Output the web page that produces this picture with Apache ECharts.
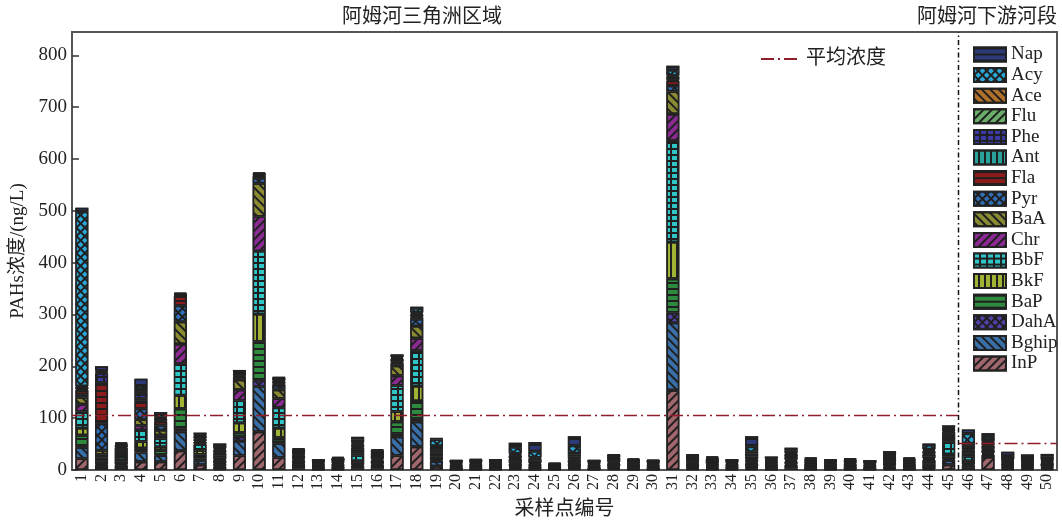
<!DOCTYPE html>
<html>
<head>
<meta charset="utf-8">
<script src="https://cdn.jsdelivr.net/npm/echarts@6/dist/echarts.min.js"></script>
<style>
  html, body { margin: 0; padding: 0; background: #fff; }
  #chart { width: 1062px; height: 525px; }
</style>
</head>
<body>
<div id="chart"></div>
<script>
// Sampling sites 1–50 (1–45 delta area, 46–50 lower reach)
const sites = ['1','2','3','4','5','6','7','8','9','10','11','12','13','14','15','16','17','18','19','20',
  '21','22','23','24','25','26','27','28','29','30','31','32','33','34','35','36','37','38','39','40',
  '41','42','43','44','45','46','47','48','49','50'];

// PAH concentrations (ng/L) per site, one array per compound
const InP   = [22,6,4,16,16,37,10,2,28,74,24,3,1,1,3,3,28,45,7,1,1,1,2,1,1,2,1,2,1,1,154,2,1,1,2,1,3,1,1,1,1,2,1,2,10,5,25,2,2,2];
const Bghip = [22,4,5,18,12,37,9,4,28,87,27,4,2,2,5,3,36,48,10,1,2,2,2,2,1,2,1,2,2,1,130,2,2,2,2,2,3,2,2,2,1,2,2,3,9,4,3,2,2,2];
const DahA  = [3,2,2,3,2,6,3,2,8,12,3,1,1,1,2,1,6,6,2,1,1,1,1,1,0.5,1,1,1,1,1,20,1,1,1,1,1,1,1,1,1,1,1,1,1,2,2,1,1,1,1];
const BaP   = [20,4,5,5,8,38,8,3,8,75,8,3,1,1,4,3,23,34,4,1,1,1,2,1,1,2,1,2,1,1,65,2,2,1,2,1,3,1,1,1,1,2,1,4,5,4,2,2,2,2];
const BkF   = [14,3,3,13,7,26,8,2,19,53,19,2,1,1,4,2,20,29,3,1,1,1,1,1,0.5,1,1,1,1,1,71,1,1,1,1,1,2,1,1,1,1,2,1,3,5,3,2,1,1,1];
const BbF   = [32,5,6,22,16,61,11,6,43,121,39,5,2,2,10,6,50,68,5,2,2,2,3,2,1,3,2,3,2,2,195,3,2,2,3,2,4,2,2,2,2,4,2,6,24,8,5,2,2,3];
const Chr   = [14,6,4,9,6,38,2,2,21,67,18,2,1,1,4,2,19,24,3,1,1,1,1,1,0.5,1,1,1,1,1,52,1,1,1,1,1,2,1,1,1,1,1,1,2,5,3,1,1,1,1];
const BaA   = [13,8,4,12,10,43,3,3,19,64,17,2,1,1,3,2,19,24,3,1,1,1,2,1,0.5,2,1,2,1,1,43,2,1,1,2,1,2,1,1,1,1,2,1,2,6,3,2,1,1,1];
const Pyr   = [6,51,4,20,9,31,2,4,3,10,7,3,2,2,4,3,3,13,3,2,2,2,3,2,1,3,2,2,2,2,11,2,2,2,2,2,3,2,2,2,2,3,2,3,4,3,3,2,2,2];
const Fla   = [8,77,5,16,7,18,3,4,3,3,3,3,2,2,4,3,3,3,3,2,2,2,4,2,1,3,2,3,2,2,10,3,3,2,3,2,3,2,2,2,2,3,2,4,3,3,3,2,2,2];
const Ant   = [2,3,2,4,2,1,2,2,2,1,2,2,1,1,2,1,2,2,1,1,1,1,2,1,0.5,2,1,1,1,1,2,1,1,1,2,1,1,1,1,1,1,1,1,2,2,2,2,1,1,1];
const Phe   = [3,17,3,9,3,1,3,4,3,2,3,3,2,2,4,3,4,4,1,2,2,2,5,3,1.5,4,2,3,2,2,3,3,3,2,5,2,3,2,2,2,1.5,3,2,4,3,4,4,2,2,2];
const Flu   = [1,2,1,5,2,1,1,2,1,1,1,1,1,1,2,1,1,2,1,0.5,1,1,2,4,0.5,4,0.5,1,1,0.5,3,1,1,1,6,2,1,2,1,1,0.5,1,2,2,1,3,2,1,1,1];
const Ace   = [2,2,1,4,1,1,1,2,1,1,2,1,0.5,1,2,1,2,2,1,0.5,0.5,0.5,2,2,0.5,3,0.5,1,1,0.5,2,1,1,0.5,3,1,2,1,0.5,1,0.5,1,1,2,1,4,3,1,1,1];
const Acy   = [336,2,2,6,2,1,2,3,2,1,5,5,1,4,6,4,2,8,12,1,1,1,12,12,1,14,1,4,1,1,10,4,2,1,10,2,5,2,0.5,2,0.5,5,2,8,2,19,6,6,4,4];
const Nap   = [8,8,2,14,9,2,4,6,4,2,1,2,1,2.5,5,2,5,3,3,1,1.5,1,8.5,18,2,18,1,1,2.5,1.5,9,1,2,1,20,4,5,2,1,1.5,0.5,3.5,2.5,3,4,8,7,8,5,5];

// Regional mean concentration (ng/L) and the last site of each region
const regionNames = ['阿姆河三角洲区域', '阿姆河下游河段'];
const regionEnds  = [45, 50];
const regionMeans = [105, 51];

// Y-axis ticks
const yMax = 845, yStep = 100;

const INK = '#1f1f1f';
const SERIF = '"Liberation Serif", "Noto Sans CJK SC", serif';
const CJK = '"Liberation Serif", "Noto Sans CJK SC", sans-serif';
const MEAN_RED = '#8e1f2a';

// Fill patterns
const stripes = (rot) => ({ symbol: 'rect', symbolSize: 1, color: INK,
  dashArrayX: [1, 0], dashArrayY: [1.6, 3.8], rotation: rot });
const cells = (fill) => ({ symbol: 'rect', symbolSize: 1, color: fill, backgroundColor: INK,
  dashArrayX: [4.2, 1.6], dashArrayY: [3.8, 1.6], rotation: 0 });
const lattice = (fill) => ({ symbol: 'rect', symbolSize: 1, color: fill, backgroundColor: INK,
  dashArrayX: [3.2, 1.3], dashArrayY: [3.2, 1.3], rotation: Math.PI / 4 });

const H = 0, V = Math.PI / 2, BACK = Math.PI / 4, FWD = -Math.PI / 4;

// Stack order, bottom to top
const compounds = [
  { name: 'InP',   data: InP,   color: '#a0676c', decal: stripes(FWD) },
  { name: 'Bghip', data: Bghip, color: '#3a70aa', decal: stripes(BACK) },
  { name: 'DahA',  data: DahA,  color: '#5140a8', decal: lattice('#5140a8') },
  { name: 'BaP',   data: BaP,   color: '#2d8a3e', decal: stripes(H) },
  { name: 'BkF',   data: BkF,   color: '#a2b235', decal: stripes(V) },
  { name: 'BbF',   data: BbF,   color: '#30c6c8', decal: cells('#30c6c8') },
  { name: 'Chr',   data: Chr,   color: '#8a2a92', decal: stripes(FWD) },
  { name: 'BaA',   data: BaA,   color: '#8a8a32', decal: stripes(BACK) },
  { name: 'Pyr',   data: Pyr,   color: '#2f6db5', decal: lattice('#2f6db5') },
  { name: 'Fla',   data: Fla,   color: '#8c1c1c', decal: stripes(H) },
  { name: 'Ant',   data: Ant,   color: '#28a29a', decal: stripes(V) },
  { name: 'Phe',   data: Phe,   color: '#3a3aa8', decal: cells('#3a3aa8') },
  { name: 'Flu',   data: Flu,   color: '#6aae6a', decal: stripes(FWD) },
  { name: 'Ace',   data: Ace,   color: '#b0702a', decal: stripes(BACK) },
  { name: 'Acy',   data: Acy,   color: '#2aa7d6', decal: lattice('#2aa7d6') },
  { name: 'Nap',   data: Nap,   color: '#2e3a78', decal: stripes(H) }
];

const barSeries = compounds.map(c => ({
  type: 'bar',
  name: c.name,
  stack: 'pah',
  barWidth: 13,
  data: c.data,
  itemStyle: { color: c.color, borderColor: '#222', borderWidth: 1.5, decal: c.decal },
  emphasis: { disabled: true }
}));

// Mean concentration per region, drawn across that region's sites
const meanSeries = regionEnds.map((end, i) => ({
  type: 'line',
  name: '平均浓度',
  xAxisIndex: 1,
  symbol: 'none',
  data: [[i === 0 ? 0 : regionEnds[i - 1], regionMeans[i]], [end, regionMeans[i]]],
  itemStyle: { color: MEAN_RED },
  lineStyle: { color: MEAN_RED, width: 1.6, type: [13, 4, 2, 4] },
  z: 5
}));

// Boundary between the two regions
const dividerSeries = {
  type: 'line',
  name: 'boundary',
  xAxisIndex: 1,
  symbol: 'none',
  data: [[regionEnds[0], 0], [regionEnds[0], yMax]],
  lineStyle: { color: '#111', width: 1.5, type: [5, 3, 1.5, 3] },
  z: 6
};

const chart = echarts.init(document.getElementById('chart'), null, { renderer: 'canvas' });

const gridLeft = 72, gridRight = 5, gridTop = 32, gridBottom = 53;
const plotRight = 1062 - gridRight;

chart.setOption({
  animation: false,
  backgroundColor: '#fff',
  grid: { left: gridLeft, right: gridRight, top: gridTop, bottom: gridBottom,
          show: true, borderColor: '#555', borderWidth: 2, backgroundColor: 'transparent' },
  graphic: [
    { type: 'text', x: 422, y: 18,
      style: { text: regionNames[0], font: '20px ' + CJK, fill: '#222', align: 'center', verticalAlign: 'middle' } },
    { type: 'text', x: plotRight, y: 18,
      style: { text: regionNames[1], font: '20px ' + CJK, fill: '#222', align: 'right', verticalAlign: 'middle' } }
  ],
  legend: [
    {
      data: compounds.map(c => c.name).reverse(),
      orient: 'vertical',
      left: 968, top: 40,
      itemWidth: 32, itemHeight: 14, itemGap: 1.6,
      icon: 'rect',
      selectedMode: false,
      textStyle: { fontFamily: SERIF, fontSize: 19, color: '#222' }
    },
    {
      data: ['平均浓度'],
      left: 755, top: 44,
      itemWidth: 40, itemHeight: 14,
      selectedMode: false,
      itemStyle: { opacity: 0 },
      textStyle: { fontFamily: CJK, fontSize: 20, color: '#222' }
    }
  ],
  xAxis: [
    {
      type: 'category',
      data: sites,
      boundaryGap: true,
      name: '采样点编号',
      nameLocation: 'middle',
      nameGap: 30,
      nameTextStyle: { fontFamily: CJK, fontSize: 20, color: '#222' },
      axisLine: { lineStyle: { color: '#555', width: 2 } },
      axisTick: { show: false },
      axisLabel: { interval: 0, rotate: 90, margin: 4, fontFamily: SERIF, fontSize: 16, color: '#222' }
    },
    { type: 'value', min: 0, max: sites.length, show: false }
  ],
  yAxis: {
    type: 'value',
    min: 0, max: yMax, interval: yStep,
    name: 'PAHs浓度/(ng/L)',
    nameLocation: 'middle',
    nameGap: 44,
    nameTextStyle: { fontFamily: CJK, fontSize: 19, color: '#222' },
    axisLine: { show: true, lineStyle: { color: '#555', width: 2 } },
    axisTick: { show: true, inside: true, length: 7, lineStyle: { color: '#333', width: 1.5 } },
    axisLabel: { showMaxLabel: false, margin: 5, fontFamily: SERIF, fontSize: 19, color: '#222' },
    splitLine: { show: false }
  },
  series: [...barSeries, ...meanSeries, dividerSeries]
});
</script>
</body>
</html>
